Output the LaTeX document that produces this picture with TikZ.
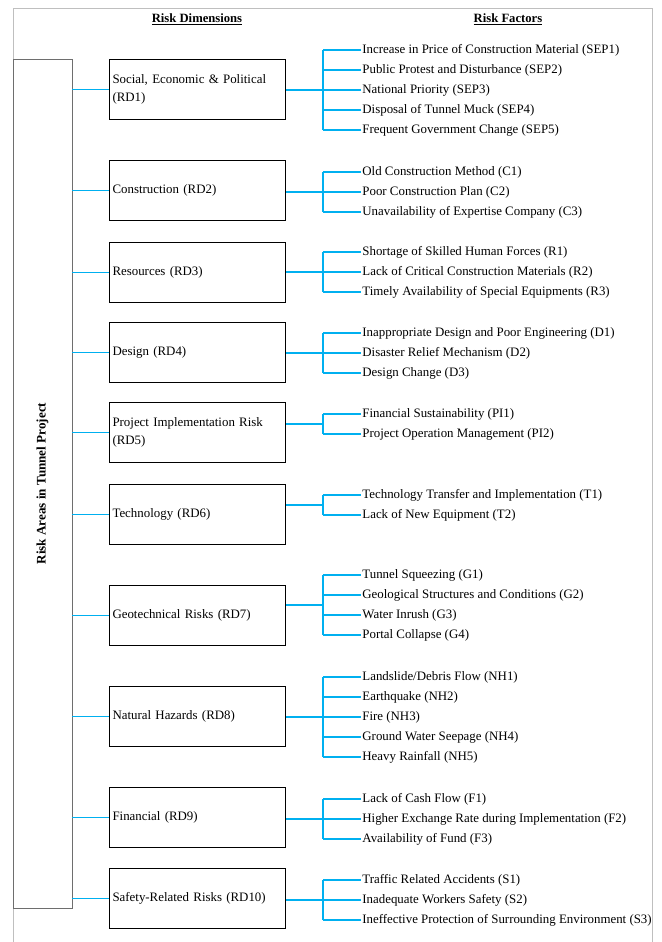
\documentclass[tikz,border=0pt]{standalone}
\usepackage{fontspec}
\setmainfont{Liberation Serif}
\usetikzlibrary{calc}
\definecolor{linkblue}{RGB}{0,176,240}
\definecolor{framegray}{RGB}{191,191,191}
\definecolor{areagray}{RGB}{110,110,110}

\begin{document}
\begin{tikzpicture}[x=0.03cm, y=-0.03cm,
			font=\fontsize{11}{15.4}\selectfont,
			dimbox/.style = {draw, line width=0.9pt, anchor=north west, text width=5.1cm, inner xsep=0.09cm, minimum height=1.8cm, align=left},
			factor/.style = {anchor=west, inner sep=1pt, text height=1.6ex, text depth=0.4ex},
			heading/.style = {font=\fontsize{10.8}{13}\selectfont\bfseries},
			link/.style = {draw=linkblue, line width=1pt}]
	
	\useasboundingbox (0,0) rectangle (661,942);
	\draw[framegray, line width=0.8pt] (13,942) -- (13,8) -- (652,8) -- (652,942);
	
	\node[heading] (dimhead) at (197,19) {\underline{Risk Dimensions}};
	\node[heading] (facthead) at (508,19) {\underline{Risk Factors}};
	
	\node[draw=areagray, line width=0.8pt, minimum width=1.77cm, minimum height=25.47cm] (area) at (42.5,483.5) {};
	\node[rotate=90, font=\fontsize{11.2}{13}\selectfont\bfseries] (arealabel) at (area.center) {Risk Areas in Tunnel Project};
	
	% risk dimensions
	\node[dimbox] (rd1) at (109,59) {Social, Economic \& Political\\(RD1)};
	\node[dimbox] (rd2) at (109,160) {Construction (RD2)};
	\node[dimbox] (rd3) at (109,242) {Resources (RD3)};
	\node[dimbox] (rd4) at (109,322) {Design (RD4)};
	\node[dimbox] (rd5) at (109,402) {Project Implementation Risk\\(RD5)};
	\node[dimbox] (rd6) at (109,484) {Technology (RD6)};
	\node[dimbox] (rd7) at (109,585) {Geotechnical Risks (RD7)};
	\node[dimbox] (rd8) at (109,686) {Natural Hazards (RD8)};
	\node[dimbox] (rd9) at (109,787) {Financial (RD9)};
	\node[dimbox] (rd10) at (109,868) {Safety-Related Risks (RD10)};
	
	% risk factors
	\foreach \t [count=\i] in {Increase in Price of Construction Material (SEP1), Public Protest and Disturbance (SEP2), National Priority (SEP3), Disposal of Tunnel Muck (SEP4), Frequent Government Change (SEP5)}
		\node[factor] (sep\i) at (361,30+20*\i) {\t};
	\foreach \t [count=\i] in {Old Construction Method (C1), Poor Construction Plan (C2), Unavailability of Expertise Company (C3)}
		\node[factor] (c\i) at (361,152+20*\i) {\t};
	\foreach \t [count=\i] in {Shortage of Skilled Human Forces (R1), Lack of Critical Construction Materials (R2), Timely Availability of Special Equipments (R3)}
		\node[factor] (r\i) at (361,232+20*\i) {\t};
	\foreach \t [count=\i] in {Inappropriate Design and Poor Engineering (D1), Disaster Relief Mechanism (D2), Design Change (D3)}
		\node[factor] (d\i) at (361,313+20*\i) {\t};
	\foreach \t [count=\i] in {Financial Sustainability (PI1), Project Operation Management (PI2)}
		\node[factor] (pi\i) at (361,394+20*\i) {\t};
	\foreach \t [count=\i] in {Technology Transfer and Implementation (T1), Lack of New Equipment (T2)}
		\node[factor] (t\i) at (361,475+20*\i) {\t};
	\foreach \t [count=\i] in {Tunnel Squeezing (G1), Geological Structures and Conditions (G2), Water Inrush (G3), Portal Collapse (G4)}
		\node[factor] (g\i) at (361,555+20*\i) {\t};
	\foreach \t [count=\i] in {Landslide/Debris Flow (NH1), Earthquake (NH2), Fire (NH3), Ground Water Seepage (NH4), Heavy Rainfall (NH5)}
		\node[factor] (nh\i) at (361,657+20*\i) {\t};
	\foreach \t [count=\i] in {Lack of Cash Flow (F1), Higher Exchange Rate during Implementation (F2), Availability of Fund (F3)}
		\node[factor] (f\i) at (361,779+20*\i) {\t};
	\foreach \t [count=\i] in {Traffic Related Accidents (S1), Inadequate Workers Safety (S2), Ineffective Protection of Surrounding Environment (S3)}
		\node[factor] (s\i) at (361,860+20*\i) {\t};
	
	% connectors
	\coordinate (busline) at (323,0);
	\foreach \g/\n [count=\k] in {sep/5, c/3, r/3, d/3, pi/2, t/2, g/4, nh/5, f/3, s/3} {
		\coordinate (mid\k) at ($(\g1.west)!0.5!(\g\n.west)$);
		\coordinate (bus\k) at (busline |- mid\k);
		\draw[link] (area.east |- rd\k.west) -- (rd\k.west);
		\draw[link] (rd\k.east |- bus\k) -- (bus\k);
		\draw[link] (bus\k |- \g1.west) -- (bus\k |- \g\n.west);
		\foreach \i in {1,...,\n}
			\draw[link] (bus\k |- \g\i.west) -- (\g\i.west);
	}
\end{tikzpicture}
\end{document}
